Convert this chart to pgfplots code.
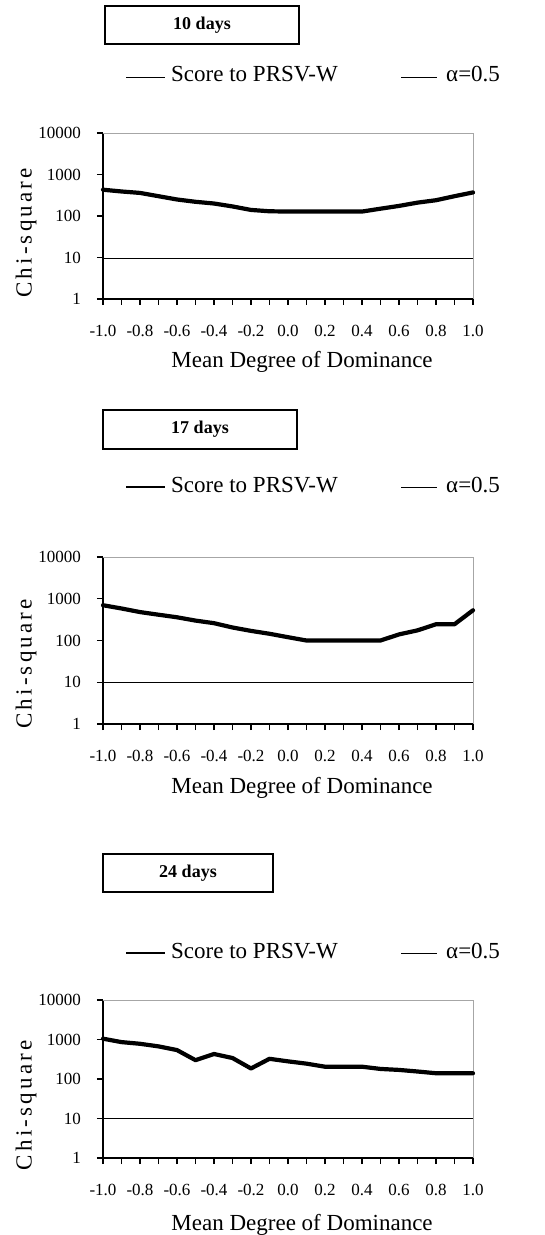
\documentclass[border=0pt]{standalone}
\usepackage{fontspec}
\setmainfont{Liberation Serif}
\newfontfamily\spacedfont[LetterSpace=14]{Liberation Serif}
\usepackage{pgfplots}
\usepackage{pgfplotstable}
\pgfplotsset{compat=1.18}

\pgfplotstableread{
x y
-1.0 430
-0.9 390
-0.8 360
-0.7 300
-0.6 250
-0.5 220
-0.4 200
-0.3 170
-0.2 140
-0.1 130
0.0 128
0.1 128
0.2 128
0.3 128
0.4 128
0.5 150
0.6 175
0.7 210
0.8 240
0.9 300
1.0 370
}\dataA

\pgfplotstableread{
x y
-1.0 700
-0.9 585
-0.8 480
-0.7 415
-0.6 360
-0.5 300
-0.4 260
-0.3 205
-0.2 170
-0.1 145
0.0 120
0.1 100
0.2 100
0.3 100
0.4 100
0.5 100
0.6 140
0.7 175
0.8 245
0.9 245
1.0 530
}\dataB

\pgfplotstableread{
x y
-1.0 1050
-0.9 860
-0.8 780
-0.7 670
-0.6 540
-0.5 300
-0.4 430
-0.3 340
-0.2 185
-0.1 325
0.0 280
0.1 245
0.2 205
0.3 205
0.4 205
0.5 180
0.6 170
0.7 155
0.8 140
0.9 140
1.0 140
}\dataC

\newcommand{\frameit}{\draw[gray!70, line width=0.9pt] (rel axis cs:0,1) -- (rel axis cs:1,1) -- (rel axis cs:1,0);}

\begin{document}
\begin{tikzpicture}[x=1pt, y=1pt]
\path[use as bounding box] (0,0) rectangle (544,-1235);

% ---------- Panel 1 ----------
\node[draw, line width=1.2pt, minimum width=194pt, minimum height=38pt, inner sep=0pt,
  font=\fontsize{18}{20}\selectfont\bfseries] at (202,-25) {10 days};
\draw[black, line width=1pt] (126,-77) -- (165,-77);
\node[anchor=base west, inner sep=0pt, font=\fontsize{23}{26}\selectfont] at (171,-81) {Score to PRSV-W};
\draw[black, line width=1pt] (401,-77) -- (437,-77);
\node[anchor=base west, inner sep=0pt, font=\fontsize{23}{26}\selectfont] at (446,-81) {α=0.5};

\begin{axis}[at={(103pt,-299pt)}, anchor=south west,
    scale only axis, width=370pt, height=166pt,
    xmin=-1, xmax=1, ymode=log, ymin=1, ymax=10000,
    axis x line*=bottom, axis y line*=left,
    axis line style={black, line width=1.5pt, -},
    xtick={-1,-0.8,-0.6,-0.4,-0.2,0,0.2,0.4,0.6,0.8,1},
    xticklabels={-1.0,-0.8,-0.6,-0.4,-0.2,0.0,0.2,0.4,0.6,0.8,1.0},
    minor xtick={-0.9,-0.7,-0.5,-0.3,-0.1,0.1,0.3,0.5,0.7,0.9},
    ytick={1,10,100,1000,10000}, yticklabels={1,10,100,1000,10000},
    yminorticks=false,
    tick align=outside, major tick length=6pt, minor tick length=6pt,
    tick style={black, line width=1.2pt},
    ticklabel style={font=\fontsize{17}{19}\selectfont},
    xticklabel style={anchor=base, inner sep=0pt, yshift=-31pt},
    yticklabel style={anchor=east, inner sep=0pt, xshift=-16pt},
    xlabel={Mean Degree of Dominance},
    ylabel={Chi-square},
    label style={font=\fontsize{23}{26}\selectfont},
    xlabel style={at={(axis description cs:0.538,0)}, anchor=base, inner sep=0pt, yshift=-68pt},
    ylabel style={at={(axis description cs:-0.208,0.398)}, anchor=center, font=\fontsize{23}{26}\spacedfont},
    clip=false]
\frameit
\addplot[black, line width=1.2pt] coordinates {(-1,9.5) (1,9.5)};
\addplot[black, line width=4.2pt, line join=round, line cap=round] table[x=x,y=y] {\dataA};
\end{axis}

% ---------- Panel 2 ----------
\node[draw, line width=1.2pt, minimum width=194pt, minimum height=39pt, inner sep=0pt,
  font=\fontsize{18}{20}\selectfont\bfseries] at (200,-429.5) {17 days};
\draw[black, line width=2pt] (126,-487) -- (165,-487);
\node[anchor=base west, inner sep=0pt, font=\fontsize{23}{26}\selectfont] at (171,-492) {Score to PRSV-W};
\draw[black, line width=1pt] (401,-487) -- (437,-487);
\node[anchor=base west, inner sep=0pt, font=\fontsize{23}{26}\selectfont] at (446,-492) {α=0.5};

\begin{axis}[at={(103pt,-724pt)}, anchor=south west,
    scale only axis, width=370pt, height=167pt,
    xmin=-1, xmax=1, ymode=log, ymin=1, ymax=10000,
    axis x line*=bottom, axis y line*=left,
    axis line style={black, line width=1.5pt, -},
    xtick={-1,-0.8,-0.6,-0.4,-0.2,0,0.2,0.4,0.6,0.8,1},
    xticklabels={-1.0,-0.8,-0.6,-0.4,-0.2,0.0,0.2,0.4,0.6,0.8,1.0},
    minor xtick={-0.9,-0.7,-0.5,-0.3,-0.1,0.1,0.3,0.5,0.7,0.9},
    ytick={1,10,100,1000,10000}, yticklabels={1,10,100,1000,10000},
    yminorticks=false,
    tick align=outside, major tick length=6pt, minor tick length=6pt,
    tick style={black, line width=1.2pt},
    ticklabel style={font=\fontsize{17}{19}\selectfont},
    xticklabel style={anchor=base, inner sep=0pt, yshift=-31pt},
    yticklabel style={anchor=east, inner sep=0pt, xshift=-16pt},
    xlabel={Mean Degree of Dominance},
    ylabel={Chi-square},
    label style={font=\fontsize{23}{26}\selectfont},
    xlabel style={at={(axis description cs:0.538,0)}, anchor=base, inner sep=0pt, yshift=-69pt},
    ylabel style={at={(axis description cs:-0.208,0.36)}, anchor=center, font=\fontsize{23}{26}\spacedfont},
    clip=false]
\frameit
\addplot[black, line width=1.2pt] coordinates {(-1,10) (1,10)};
\addplot[black, line width=4.2pt, line join=round, line cap=round] table[x=x,y=y] {\dataB};
\end{axis}

% ---------- Panel 3 ----------
\node[draw, line width=1.2pt, minimum width=170pt, minimum height=38pt, inner sep=0pt,
  font=\fontsize{18}{20}\selectfont\bfseries] at (188,-873) {24 days};
\draw[black, line width=2pt] (126,-953) -- (165,-953);
\node[anchor=base west, inner sep=0pt, font=\fontsize{23}{26}\selectfont] at (171,-958) {Score to PRSV-W};
\draw[black, line width=1pt] (401,-953) -- (437,-953);
\node[anchor=base west, inner sep=0pt, font=\fontsize{23}{26}\selectfont] at (446,-958) {α=0.5};

\begin{axis}[at={(103pt,-1158pt)}, anchor=south west,
    scale only axis, width=370pt, height=158pt,
    xmin=-1, xmax=1, ymode=log, ymin=1, ymax=10000,
    axis x line*=bottom, axis y line*=left,
    axis line style={black, line width=1.5pt, -},
    xtick={-1,-0.8,-0.6,-0.4,-0.2,0,0.2,0.4,0.6,0.8,1},
    xticklabels={-1.0,-0.8,-0.6,-0.4,-0.2,0.0,0.2,0.4,0.6,0.8,1.0},
    minor xtick={-0.9,-0.7,-0.5,-0.3,-0.1,0.1,0.3,0.5,0.7,0.9},
    ytick={1,10,100,1000,10000}, yticklabels={1,10,100,1000,10000},
    yminorticks=false,
    tick align=outside, major tick length=6pt, minor tick length=6pt,
    tick style={black, line width=1.2pt},
    ticklabel style={font=\fontsize{17}{19}\selectfont},
    xticklabel style={anchor=base, inner sep=0pt, yshift=-31pt},
    yticklabel style={anchor=east, inner sep=0pt, xshift=-16pt},
    xlabel={Mean Degree of Dominance},
    ylabel={Chi-square},
    label style={font=\fontsize{23}{26}\selectfont},
    xlabel style={at={(axis description cs:0.538,0)}, anchor=base, inner sep=0pt, yshift=-72pt},
    ylabel style={at={(axis description cs:-0.208,0.335)}, anchor=center, font=\fontsize{23}{26}\spacedfont},
    clip=false]
\frameit
\addplot[black, line width=1.2pt] coordinates {(-1,10) (1,10)};
\addplot[black, line width=4.2pt, line join=round, line cap=round] table[x=x,y=y] {\dataC};
\end{axis}
\end{tikzpicture}
\end{document}
